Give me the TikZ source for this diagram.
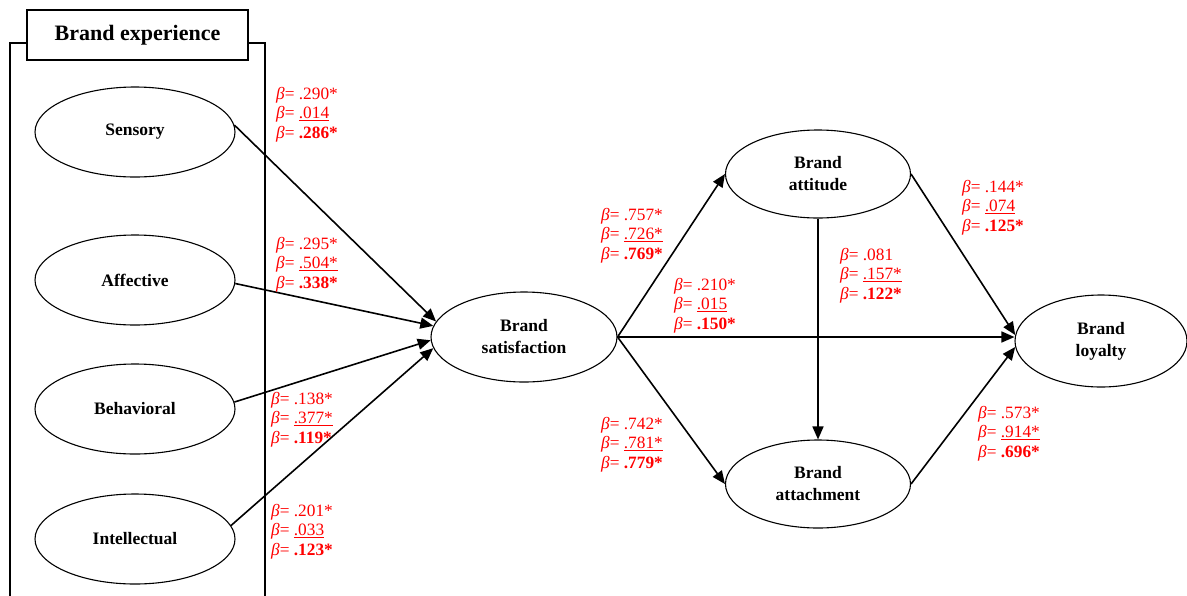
\documentclass[tikz,border=0pt]{standalone}
\usepackage{fontspec}
\setmainfont{Liberation Serif}
\usetikzlibrary{shapes.geometric,arrows.meta}
\tikzset{
  construct/.style={ellipse,draw,line width=1.1pt,inner sep=0pt,font=\fontsize{17.5}{22}\selectfont\bfseries,align=center},
  path/.style={line width=1.6pt,-{Triangle[length=13pt,width=11pt]}},
  beta/.style={anchor=north west,inner sep=0pt,text=red,align=left,font=\fontsize{17.3}{19.6}\selectfont},
  frame/.style={line width=1.1pt}
}
\newcommand{\bt}{\textit{β}= }
\begin{document}
\begin{tikzpicture}[x=1pt,y=-1pt]
\useasboundingbox (0,0) rectangle (1187,595);
% outer frame
\draw[frame] (10,600) -- (10,43) -- (265,43) -- (265,600);
\node[draw,frame,fill=white,minimum width=221pt,minimum height=50pt,inner sep=0pt,font=\fontsize{22}{24}\selectfont\bfseries] (title) at (137.5,35) {Brand experience};
% constructs
\node[construct,minimum width=200pt,minimum height=90pt] (sens) at (135,132) {Sensory};
\node[construct,minimum width=200pt,minimum height=90pt] (aff) at (135,280) {Affective};
\node[construct,minimum width=200pt,minimum height=90pt] (beh) at (135,409) {Behavioral};
\node[construct,minimum width=200pt,minimum height=90pt] (int) at (135,539) {Intellectual};
\node[construct,minimum width=186pt,minimum height=90pt] (sat) at (524,337) {Brand\\satisfaction};
\node[construct,minimum width=185pt,minimum height=88pt] (att) at (818,174) {Brand\\attitude};
\node[construct,minimum width=185pt,minimum height=88pt] (atm) at (818,484) {Brand\\attachment};
\node[construct,minimum width=172pt,minimum height=92pt] (loy) at (1101,341) {Brand\\loyalty};
% paths
\draw[path] (sens.4) -- (sat.170);
\draw[path] (aff.-2) -- (sat.173);
\draw[path] (beh.4) -- (sat.182);
\draw[path] (int.8) -- (sat.187);
\draw[path] (sat.east) -- (att.west);
\draw[path] (sat.east) -- (atm.west);
\draw[path] (sat.east) -- (sat.east -| loy.west);
\draw[path] (att.south) -- (atm.north);
\draw[path] (att.east) -- (loy.176);
\draw[path] (atm.east) -- (loy.184);
% coefficients
\node[beta] (b1) at (276,87) {\bt.290*\\\bt\underline{.014}\\\bt\textbf{.286*}};
\node[beta] (b2) at (276,237) {\bt.295*\\\bt\underline{.504*}\\\bt\textbf{.338*}};
\node[beta] (b3) at (271,392) {\bt.138*\\\bt\underline{.377*}\\\bt\textbf{.119*}};
\node[beta] (b4) at (271,504) {\bt.201*\\\bt\underline{.033}\\\bt\textbf{.123*}};
\node[beta] (b5) at (601,208) {\bt.757*\\\bt\underline{.726*}\\\bt\textbf{.769*}};
\node[beta] (b6) at (674,278) {\bt.210*\\\bt\underline{.015}\\\bt\textbf{.150*}};
\node[beta] (b7) at (840,248) {\bt.081\\\bt\underline{.157*}\\\bt\textbf{.122*}};
\node[beta] (b8) at (962,180) {\bt.144*\\\bt\underline{.074}\\\bt\textbf{.125*}};
\node[beta] (b9) at (601,417) {\bt.742*\\\bt\underline{.781*}\\\bt\textbf{.779*}};
\node[beta] (b10) at (978,406) {\bt.573*\\\bt\underline{.914*}\\\bt\textbf{.696*}};
\end{tikzpicture}
\end{document}
